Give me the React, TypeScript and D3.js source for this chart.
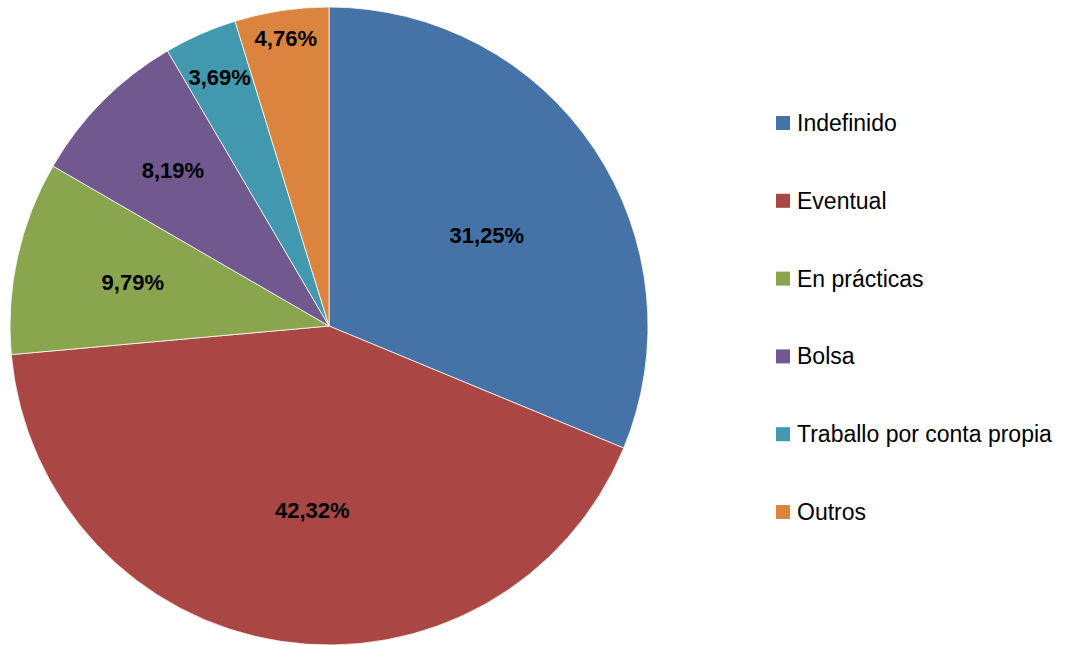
import React from 'react';
import * as d3 from 'd3';

const categories = ['Indefinido', 'Eventual', 'En prácticas', 'Bolsa', 'Traballo por conta propia', 'Outros'];
const shares = [31.25, 42.32, 9.79, 8.19, 3.69, 4.76];
const labels = ['31,25%', '42,32%', '9,79%', '8,19%', '3,69%', '4,76%'];
const colors = ['#4572A7', '#AA4643', '#89A54E', '#71588F', '#4198AF', '#DB843D'];
// how far out each label sits, as a share of the radius (Excel best fit)
const labelPos = [0.57, 0.58, 0.63, 0.69, 0.85, 0.91];
// small angular nudge of each label away from the slice middle, in degrees
const labelTurn = [4, -3.5, 0, 0, 0, 0];

const width = 1067;
const height = 645;
const cx = 329;
const cy = 326;
const radius = 319;
const font = '"Liberation Sans", Arial, sans-serif';

export default function App() {
  const pie = d3.pie<number>().sort(null).value(d => d);
  const arcs = pie(shares);
  const arc = d3.arc<d3.PieArcDatum<number>>().innerRadius(0).outerRadius(radius);

  const legendY = d3.scalePoint<string>()
    .domain(categories)
    .range([123, 512]);

  return (
    <svg width={width} height={height} style={{ position: 'absolute', left: 0, top: 0, background: '#fff' }}>
      <g transform={`translate(${cx},${cy})`}>
        {arcs.map((a, i) => (
          <path key={i} d={arc(a) || ''} fill={colors[i]} stroke="#fff" strokeWidth={0.75} />
        ))}
        {arcs.map((a, i) => {
          const mid = (a.startAngle + a.endAngle) / 2 + (labelTurn[i] * Math.PI) / 180;
          const r = radius * labelPos[i];
          return (
            <text key={'l' + i}
              x={Math.sin(mid) * r}
              y={-Math.cos(mid) * r}
              textAnchor="middle"
              dominantBaseline="central"
              fontFamily={font}
              fontWeight="bold"
              fontSize={22}
              fill="#000">
              {labels[i]}
            </text>
          );
        })}
      </g>
      {categories.map((c, i) => (
        <g key={c} transform={`translate(776,${legendY(c)})`}>
          <rect x={0} y={-7} width={14} height={14} fill={colors[i]} />
          <text x={21} y={0} dominantBaseline="central" fontFamily={font} fontSize={23} fill="#000">{c}</text>
        </g>
      ))}
    </svg>
  );
}
